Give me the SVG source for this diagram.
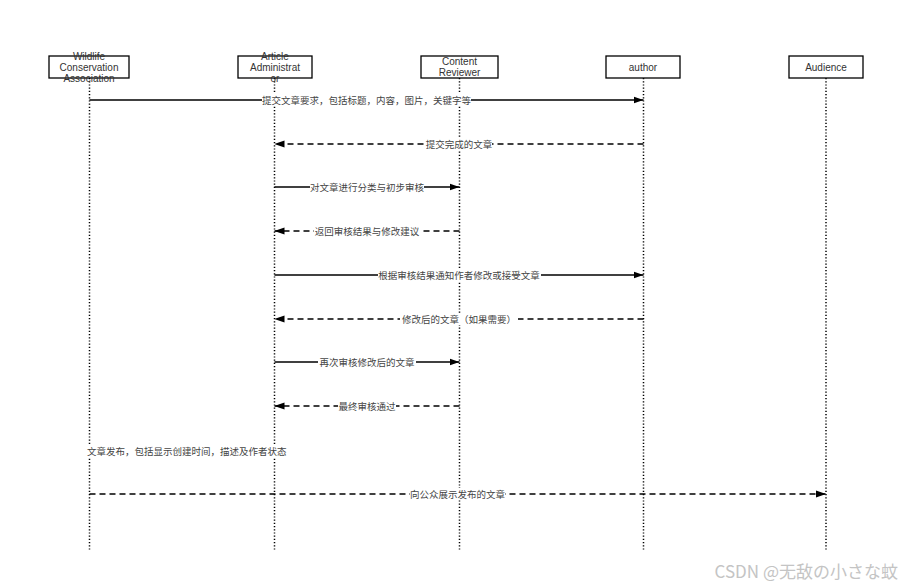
<svg xmlns="http://www.w3.org/2000/svg" width="906" height="588" viewBox="0 0 906 588">
<style>
.box{fill:#fff;stroke:#000;stroke-width:1.3}
.nt{font-family:"Liberation Sans","Noto Sans CJK SC",sans-serif;font-size:10px;fill:#333;text-anchor:middle}
.life{stroke:#000;stroke-width:1.5;stroke-dasharray:1.2 2;fill:none}
.msg{stroke:#000;stroke-width:1.3;fill:none}
.dash{stroke-dasharray:6 4}
.lb{font-family:"Noto Sans CJK SC","Liberation Sans",sans-serif;font-size:9.5px;fill:#444;text-anchor:middle}
.bg{fill:#fff}
</style>
<defs>
<marker id="ah" viewBox="0 0 10 10" refX="10" refY="5" markerWidth="10" markerHeight="10" markerUnits="userSpaceOnUse" orient="auto">
<path d="M0,1.5 L10,5 L0,8.5 Z" fill="#000"/>
</marker>
</defs>
<rect width="906" height="588" fill="#fff"/>
<g id="lifelines">
<line class="life" x1="89.5" y1="78" x2="89.5" y2="550"/>
<line class="life" x1="274.5" y1="78" x2="274.5" y2="550"/>
<line class="life" x1="459.5" y1="78" x2="459.5" y2="550"/>
<line class="life" x1="643.5" y1="78" x2="643.5" y2="550"/>
<line class="life" x1="826" y1="78" x2="826" y2="550"/>
</g>
<g id="wildlife">
<rect class="box" x="49" y="56" width="80" height="22"/>
<text class="nt" x="89" y="59.5">Wildlife</text>
<text class="nt" x="89" y="70.5">Conservation</text>
<text class="nt" x="89" y="81.5">Association</text>
</g>
<g id="article">
<rect class="box" x="238" y="56" width="74" height="22"/>
<text class="nt" x="275" y="59.5">Article</text>
<text class="nt" x="275" y="70.5">Administrat</text>
<text class="nt" x="275" y="81.5">or</text>
</g>
<g id="reviewer">
<rect class="box" x="421" y="56" width="77" height="22"/>
<text class="nt" x="459.5" y="64.5">Content</text>
<text class="nt" x="459.5" y="75.5">Reviewer</text>
</g>
<g id="author">
<rect class="box" x="606" y="56" width="74" height="22"/>
<text class="nt" x="643" y="70.5">author</text>
</g>
<g id="audience">
<rect class="box" x="789" y="56" width="74" height="22"/>
<text class="nt" x="826" y="70.5">Audience</text>
</g>
<g id="connectors">
<line class="msg" x1="89.5" y1="100" x2="643.5" y2="100" marker-end="url(#ah)"/>
<rect class="bg" x="262" y="94" width="209" height="12"/>
<text class="lb" x="366.5" y="103.5">提交文章要求，包括标题，内容，图片，关键字等</text>

<line class="msg dash" x1="643.5" y1="144" x2="274.5" y2="144" marker-end="url(#ah)"/>
<rect class="bg" x="426" y="138" width="66" height="12"/>
<text class="lb" x="459" y="147.5">提交完成的文章</text>

<line class="msg" x1="274.5" y1="187" x2="459.5" y2="187" marker-end="url(#ah)"/>
<rect class="bg" x="310" y="181" width="114" height="12"/>
<text class="lb" x="367" y="190.5">对文章进行分类与初步审核</text>

<line class="msg dash" x1="459.5" y1="231" x2="274.5" y2="231" marker-end="url(#ah)"/>
<rect class="bg" x="314" y="225" width="106" height="12"/>
<text class="lb" x="367" y="234.5">返回审核结果与修改建议</text>

<line class="msg" x1="274.5" y1="275" x2="643.5" y2="275" marker-end="url(#ah)"/>
<rect class="bg" x="378" y="269" width="163" height="12"/>
<text class="lb" x="459" y="278.5">根据审核结果通知作者修改或接受文章</text>

<line class="msg dash" x1="643.5" y1="319" x2="274.5" y2="319" marker-end="url(#ah)"/>
<rect class="bg" x="400" y="313" width="118" height="12"/>
<text class="lb" x="459" y="322.5">修改后的文章（如果需要）</text>

<line class="msg" x1="274.5" y1="362" x2="459.5" y2="362" marker-end="url(#ah)"/>
<rect class="bg" x="318" y="356" width="98" height="12"/>
<text class="lb" x="367" y="365.5">再次审核修改后的文章</text>

<line class="msg dash" x1="459.5" y1="406" x2="274.5" y2="406" marker-end="url(#ah)"/>
<rect class="bg" x="338" y="400" width="58" height="12"/>
<text class="lb" x="367" y="409.5">最终审核通过</text>

<rect class="bg" x="87" y="445" width="202" height="12"/>
<text class="lb" x="87" y="454.5" style="text-anchor:start">文章发布，包括显示创建时间，描述及作者状态</text>

<line class="msg dash" x1="89.5" y1="494" x2="826" y2="494" marker-end="url(#ah)"/>
<rect class="bg" x="410" y="488" width="95" height="12"/>
<text class="lb" x="457.5" y="497.5">向公众展示发布的文章</text>
</g>
<text x="898" y="578" style="font-family:'Noto Sans CJK JP','Liberation Sans',sans-serif;font-size:17px;fill:#c4c4c4;text-anchor:end">CSDN @无敌の小さな蚊</text>
</svg>
